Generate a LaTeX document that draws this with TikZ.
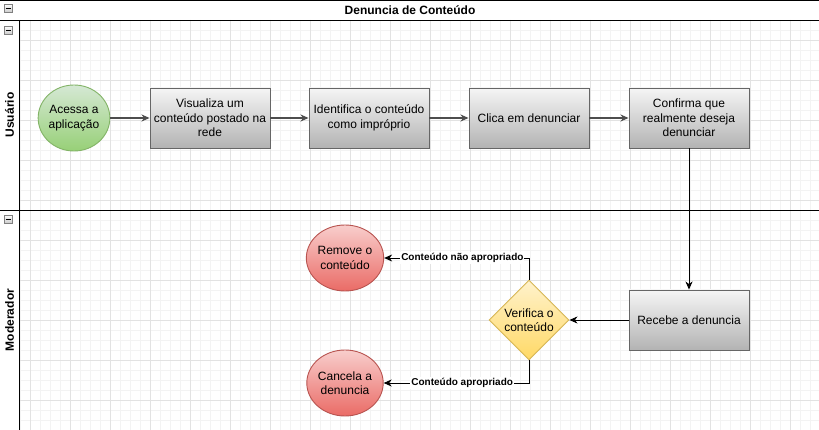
\documentclass[tikz,border=0pt]{standalone}
\usepackage{fontspec}
\setmainfont{Liberation Sans}
\usetikzlibrary{arrows.meta,shapes.geometric}
\definecolor{boxtop}{HTML}{F5F5F5}
\definecolor{boxbot}{HTML}{B3B3B3}
\definecolor{boxline}{HTML}{666666}
\definecolor{grtop}{HTML}{D5E8D4}
\definecolor{grbot}{HTML}{97D077}
\definecolor{grline}{HTML}{82B366}
\definecolor{rdtop}{HTML}{F8CECC}
\definecolor{rdbot}{HTML}{EA6B66}
\definecolor{rdline}{HTML}{B85450}
\definecolor{yetop}{HTML}{FFF2CC}
\definecolor{yebot}{HTML}{FFD966}
\definecolor{yeline}{HTML}{D6B656}
\definecolor{minorg}{HTML}{F3F3F3}
\definecolor{majorg}{HTML}{E2E2E2}
\definecolor{edgegray}{HTML}{4D4D4D}
\begin{document}
\begin{tikzpicture}[x=1pt,y=-1pt,
  every node/.style={font=\fontsize{12}{14.5}\selectfont, align=center},
  procbox/.style={rectangle, draw=boxline, line width=0.9pt, top color=boxtop, bottom color=boxbot, minimum width=120pt, minimum height=60pt, inner sep=0pt},
  startev/.style={ellipse, draw=grline, line width=0.9pt, top color=grtop, bottom color=grbot, minimum width=70pt, minimum height=66pt, inner sep=0pt},
  endev/.style={ellipse, draw=rdline, line width=0.9pt, top color=rdtop, bottom color=rdbot, minimum width=70pt, minimum height=66pt, inner sep=0pt},
  decis/.style={diamond, draw=yeline, line width=0.9pt, top color=yetop, bottom color=yebot, minimum width=80pt, minimum height=80pt, inner sep=0pt},
  arrg/.style={draw=edgegray, line width=1.4pt, -{Stealth[length=8pt,width=7pt,inset=2.5pt]}},
  arrb/.style={draw=black, line width=0.9pt, -{Stealth[length=8pt,width=7pt,inset=2.5pt]}},
  lbl/.style={fill=white, inner sep=1pt, font=\bfseries\fontsize{10}{11}\selectfont},
  minorgrid/.style={draw=minorg, line width=0.6pt},
  majorgrid/.style={draw=majorg, line width=0.8pt},
  poolline/.style={draw=black, line width=1pt},
  collapse/.style={draw=gray, line width=0.6pt, top color=white, bottom color=gray!40}
]
\useasboundingbox (0,0) rectangle (819,430);
\fill[white] (0,0) rectangle (819,430);
% grid
\foreach \x in {20,30,...,810} \draw[minorgrid] (\x,20) -- (\x,430);
\foreach \y in {30,40,...,430} \draw[minorgrid] (20,\y) -- (819,\y);
\foreach \x in {30,70,...,790} \draw[majorgrid] (\x,20) -- (\x,430);
\foreach \y in {40,80,...,400} \draw[majorgrid] (20,\y) -- (819,\y);
% pool lines
\draw[poolline] (0,0.5) -- (819,0.5);
\draw[poolline] (0,20.5) -- (819,20.5);
\draw[poolline] (19.5,20.5) -- (19.5,430);
\draw[poolline] (0,210.5) -- (819,210.5);
% collapse icons
\foreach \yy in {4,26,215} {
  \draw[collapse] (4,\yy) rectangle (12,\yy+8);
  \draw[black, line width=0.8pt] (5.5,\yy+4) -- (10.5,\yy+4);
}
% title and lane labels
\node[font=\bfseries\fontsize{12}{14}\selectfont] (title) at (410,10) {Denuncia de Conteúdo};
\node[font=\bfseries\fontsize{12}{14}\selectfont, rotate=90] (lane1) at (9.5,115) {Usuário};
\node[font=\bfseries\fontsize{12}{14}\selectfont, rotate=90] (lane2) at (9.5,320) {Moderador};
% nodes
\node[startev] (acessa) at (74,118) {Acessa a\\aplicação};
\node[procbox] (visualiza) at (210,118) {Visualiza um\\conteúdo postado na\\rede};
\node[procbox] (identifica) at (369,118) {Identifica o conteúdo\\como impróprio};
\node[procbox] (clica) at (529,118) {Clica em denunciar};
\node[procbox] (confirma) at (689,118) {Confirma que\\realmente deseja\\denunciar};
\node[procbox] (recebe) at (689,320) {Recebe a denuncia};
\node[decis] (verifica) at (529,320) {Verifica o\\conteúdo};
\node[endev] (remove) at (345,258) {Remove o\\conteúdo};
\node[endev] (cancela) at (345,383) {Cancela a\\denuncia};
% edges
\draw[arrg] (acessa) -- (visualiza);
\draw[arrg] (visualiza) -- (identifica);
\draw[arrg] (identifica) -- (clica);
\draw[arrg] (clica) -- (confirma);
\draw[arrb] (confirma.south) -- (recebe.north);
\draw[arrb] (recebe.west) -- (verifica.east);
\draw[arrb] (verifica.north) |- node[pos=0.73, lbl] {Conteúdo não apropriado} (remove.east);
\draw[arrb] (verifica.south) |- node[pos=0.73, lbl] {Conteúdo apropriado} (cancela.east);
\end{tikzpicture}
\end{document}
